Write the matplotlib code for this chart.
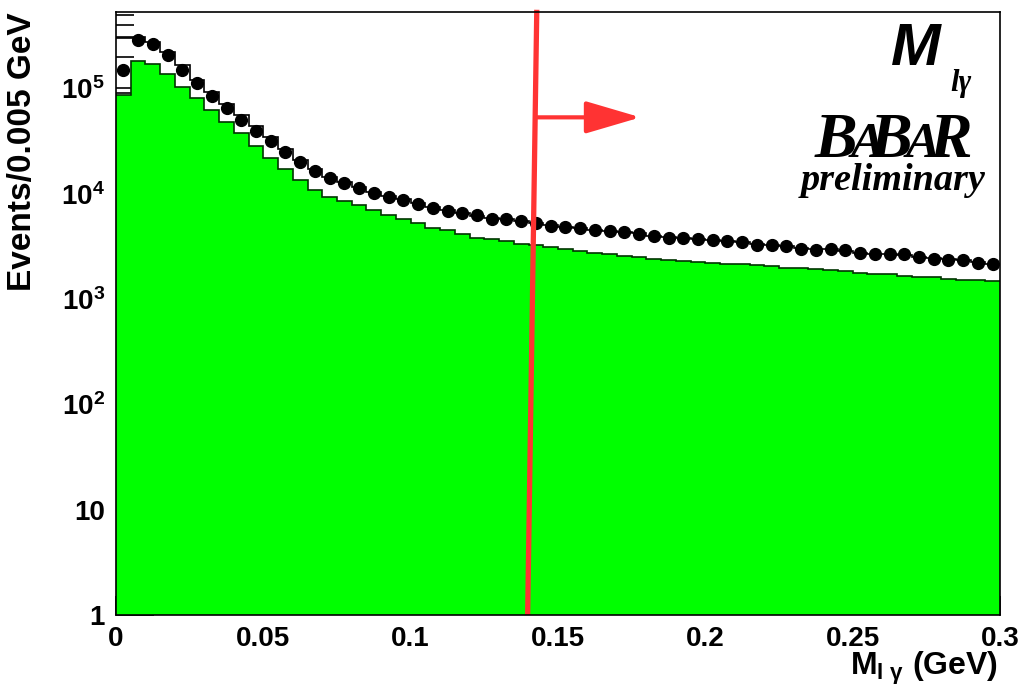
import numpy as np
import matplotlib
matplotlib.use("Agg")
import matplotlib.pyplot as plt
from matplotlib.ticker import FixedLocator, FixedFormatter, MultipleLocator, NullFormatter

# ---- data (60 bins of 0.005 GeV from 0 to 0.3) ----
bin_width = 0.005
x_min, x_max = 0.0, 0.3
data_counts = [148e3, 290e3, 261e3, 206e3, 148e3, 112e3, 84.5e3, 65.6e3, 50.5e3, 39.1e3,
               31.6e3, 24.9e3, 20.0e3, 16.3e3, 14.2e3, 12.7e3, 11.4e3, 10.2e3, 9.3e3, 8.65e3,
               8.05e3, 7.38e3, 6.85e3, 6.48e3, 6.24e3, 5.80e3, 5.70e3, 5.51e3, 5.27e3, 4.91e3,
               4.83e3, 4.67e3, 4.56e3, 4.43e3, 4.33e3, 4.18e3, 3.94e3, 3.83e3, 3.80e3, 3.75e3,
               3.61e3, 3.53e3, 3.48e3, 3.24e3, 3.22e3, 3.20e3, 3.01e3, 2.90e3, 3.00e3, 2.90e3,
               2.74e3, 2.66e3, 2.70e3, 2.66e3, 2.48e3, 2.42e3, 2.37e3, 2.33e3, 2.20e3, 2.14e3]
mc_total = [310e3, 307e3, 275e3, 221e3, 165e3, 120e3, 92e3, 71.6e3, 55.5e3, 43.6e3,
            34.5e3, 26.8e3, 20.9e3, 17.3e3, 14.4e3, 12.9e3, 11.5e3, 10.4e3, 9.5e3, 8.8e3,
            8.1e3, 7.5e3, 6.95e3, 6.55e3, 6.2e3, 5.9e3, 5.7e3, 5.5e3, 5.3e3, 5.0e3,
            4.85e3, 4.7e3, 4.55e3, 4.45e3, 4.3e3, 4.2e3, 4.0e3, 3.9e3, 3.8e3, 3.72e3,
            3.62e3, 3.53e3, 3.45e3, 3.3e3, 3.22e3, 3.18e3, 3.05e3, 2.95e3, 2.95e3, 2.88e3,
            2.76e3, 2.7e3, 2.68e3, 2.63e3, 2.52e3, 2.45e3, 2.38e3, 2.32e3, 2.22e3, 2.15e3]
mc_background = [86e3, 180e3, 171e3, 136e3, 104e3, 81e3, 61.8e3, 47.9e3, 37.7e3, 28.4e3,
                 22e3, 17.3e3, 13.6e3, 10.9e3, 9.3e3, 8.5e3, 7.8e3, 6.96e3, 6.24e3, 5.8e3,
                 5.27e3, 4.77e3, 4.5e3, 4.18e3, 3.83e3, 3.67e3, 3.53e3, 3.36e3, 3.24e3, 3.12e3,
                 2.99e3, 2.86e3, 2.74e3, 2.66e3, 2.56e3, 2.51e3, 2.42e3, 2.33e3, 2.28e3, 2.25e3,
                 2.2e3, 2.15e3, 2.13e3, 2.1e3, 2.05e3, 1.98e3, 1.95e3, 1.92e3, 1.88e3, 1.84e3,
                 1.78e3, 1.74e3, 1.72e3, 1.66e3, 1.62e3, 1.6e3, 1.56e3, 1.53e3, 1.5e3, 1.47e3]
cut_value = 0.14
arrow_end = 0.178
arrow_level = 5.3e4
y_min, y_max = 1.0, 5.3e5
ytick_values = [1, 10, 100, 1e3, 1e4, 1e5]
ytick_labels = ["1", "10", r"$\mathbf{10^{2}}$", r"$\mathbf{10^{3}}$", r"$\mathbf{10^{4}}$", r"$\mathbf{10^{5}}$"]
xtick_values = [0, 0.05, 0.1, 0.15, 0.2, 0.25, 0.3]
xtick_labels = ["0", "0.05", "0.1", "0.15", "0.2", "0.25", "0.3"]

plt.rcParams['font.family'] = ['Liberation Sans', 'DejaVu Sans']
plt.rcParams['mathtext.fontset'] = 'custom'
plt.rcParams['mathtext.rm'] = 'Liberation Sans:bold'
plt.rcParams['mathtext.bf'] = 'Liberation Sans:bold'
plt.rcParams['mathtext.it'] = 'Liberation Sans:bold:italic'

edges = np.linspace(x_min, x_max, len(data_counts) + 1)
centers = 0.5 * (edges[:-1] + edges[1:])

fig = plt.figure(figsize=(10.2, 6.89), dpi=100)
ax = fig.add_axes([116/1020, 1 - 615/689, 884/1020, 603/689])

ax.stairs(mc_total, edges, baseline=0.1, fill=True, color='white', zorder=1)
ax.stairs(mc_total, edges, baseline=None, color='black', lw=1.2, zorder=2)
ax.stairs(mc_background, edges, baseline=0.1, fill=True, color='#00ff00', zorder=3)
ax.stairs(mc_background, edges, baseline=None, color='#003300', lw=1.2, zorder=4)
ax.plot(centers, data_counts, 'o', color='black', ms=8.5, zorder=5)

ax.set_yscale('log')
ax.set_xlim(x_min, x_max)
ax.set_ylim(y_min, y_max)

# cut line and arrow
ax.plot([cut_value - 0.0003, cut_value + 0.0028], [y_min, y_max * 1.05], color='#ff3333', lw=3.8,
        zorder=6, clip_on=False, solid_capstyle='butt')
ax.annotate('', xy=(arrow_end, arrow_level), xytext=(cut_value + 0.0022, arrow_level),
            arrowprops=dict(arrowstyle='-|>,head_length=3.4,head_width=1.0', color='#ff3333',
                            lw=3, shrinkA=0, shrinkB=0),
            zorder=7)

ax.yaxis.set_major_locator(FixedLocator(ytick_values))
ax.yaxis.set_major_formatter(FixedFormatter(ytick_labels))
ax.yaxis.set_minor_locator(matplotlib.ticker.LogLocator(base=10, subs=np.arange(2, 10)))
ax.yaxis.set_minor_formatter(NullFormatter())
ax.xaxis.set_major_locator(FixedLocator(xtick_values))
ax.xaxis.set_major_formatter(FixedFormatter(xtick_labels))
ax.xaxis.set_minor_locator(MultipleLocator(0.01))

ax.tick_params(axis='both', which='both', direction='in', top=False, right=False, width=1.2)
ax.tick_params(axis='y', which='major', length=27, labelsize=20, pad=8)
ax.tick_params(axis='y', which='minor', length=13)
ax.tick_params(axis='x', which='major', length=14, labelsize=20, pad=8)
ax.tick_params(axis='x', which='minor', length=7)
for lab in ax.get_xticklabels() + ax.get_yticklabels():
    lab.set_fontweight('bold')
for sp in ax.spines.values():
    sp.set_linewidth(1.2)
    sp.set_zorder(10)

ax.set_ylabel('Events/0.005 GeV', fontsize=24, fontweight='bold', loc='top')
ax.yaxis.set_label_coords(-0.088, 1.0)
ax.set_xlabel(r'M$_{\mathrm{l\ γ}}$ (GeV)', fontsize=23, fontweight='bold', loc='right')
ax.xaxis.set_label_coords(0.997, -0.058)

# BaBar label
def fx(px):
    return (px - 116) / 884
def fy(py):
    return (615 - py) / 603

ax.text(fx(891), fy(65), 'M', fontsize=43, fontweight='bold', style='italic',
        family='Liberation Sans', ha='left', va='baseline', transform=ax.transAxes, zorder=8)
ax.text(fx(950), fy(91), 'l\u03b3', fontsize=22, fontweight='bold', style='italic',
        family='Liberation Serif', ha='left', va='baseline', transform=ax.transAxes, zorder=8)
babar = [('B', 815, 46), ('A', 851, 37), ('B', 870, 46), ('A', 906, 37), ('R', 929, 46)]
for ch, px, fs in babar:
    ax.text(fx(px), fy(157), ch, fontsize=fs, fontweight='bold', style='italic',
            family='Liberation Serif', ha='left', va='baseline', transform=ax.transAxes, zorder=8)
ax.text(fx(986), fy(190), 'preliminary', fontsize=27.5, fontweight='bold', style='italic',
        family='Liberation Serif', ha='right', va='baseline', transform=ax.transAxes, zorder=8)

fig.savefig('out.png', dpi=100)
